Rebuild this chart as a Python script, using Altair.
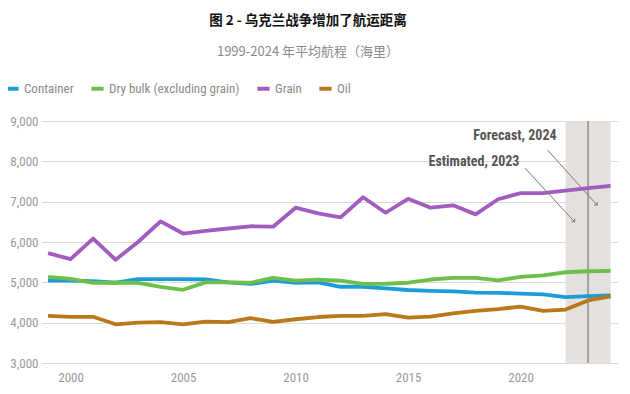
import altair as alt
import pandas as pd

years = list(range(1999, 2025))
series_names = ["Container", "Dry bulk (excluding grain)", "Grain", "Oil"]
series_colors = ["#1c9dd9", "#6dbf4b", "#a25cbf", "#b7791a"]

container = [5040, 5040, 5030, 4990, 5080, 5080, 5080, 5070, 5000, 4960, 5040, 4990, 5000,
             4890, 4890, 4850, 4810, 4790, 4775, 4745, 4740, 4720, 4700, 4635, 4660, 4675]
dry_bulk = [5135, 5085, 4985, 4990, 4985, 4890, 4815, 5000, 5000, 4990, 5110, 5040, 5065,
            5040, 4960, 4965, 4990, 5070, 5110, 5110, 5050, 5135, 5170, 5250, 5275, 5285]
grain = [5725, 5575, 6085, 5560, 6000, 6510, 6210, 6275, 6335, 6390, 6380, 6850, 6710,
         6610, 7110, 6725, 7070, 6850, 6910, 6685, 7060, 7210, 7210, 7275, 7335, 7390]
oil = [4170, 4145, 4145, 3960, 4000, 4015, 3960, 4025, 4015, 4110, 4020, 4085, 4140,
       4170, 4170, 4210, 4125, 4150, 4230, 4290, 4335, 4400, 4290, 4325, 4550, 4650]

shade_start, shade_end, rule_year = 2022, 2024, 2023

ann_text = ["Forecast, 2024", "Estimated, 2023"]
ann_tx = [2021.6, 2019.95]
ann_ty = [8630, 7990]
arrow_x1 = [2021.2, 2020.2]
arrow_y1 = [8280, 7830]
arrow_x2 = [2023.4, 2022.4]
arrow_y2 = [6915, 6500]

rows = []
for name, vals in zip(series_names, [container, dry_bulk, grain, oil]):
    for y, v in zip(years, vals):
        rows.append({"year": y, "series": name, "value": v})
df = pd.DataFrame(rows)

ann = pd.DataFrame({"text": ann_text, "tx": ann_tx, "ty": ann_ty,
                    "x1": arrow_x1, "y1": arrow_y1, "x2": arrow_x2, "y2": arrow_y2})
shade = pd.DataFrame({"a": [shade_start], "b": [shade_end], "r": [rule_year]})

W, H = 576, 242
FONT = "Roboto Condensed, Liberation Sans Narrow, DejaVu Sans Condensed, Roboto, sans-serif"

xscale = alt.Scale(domain=[1998.73, 2024.33], nice=False, zero=False)
yscale = alt.Scale(domain=[3000, 9000], nice=False, zero=False)

shade_layer = alt.Chart(shade).mark_rect(color="#e3e0dd").encode(
    x=alt.X("a:Q", scale=xscale), x2="b:Q", y=alt.value(0), y2=alt.value(H))
rule_layer = alt.Chart(shade).mark_rule(color="#666666", strokeWidth=1).encode(
    x=alt.X("r:Q", scale=xscale), y=alt.value(0), y2=alt.value(H))

lines = alt.Chart(df).mark_line(strokeWidth=3.8, strokeJoin="round").encode(
    x=alt.X("year:Q", scale=xscale,
            axis=alt.Axis(values=[2000, 2005, 2010, 2015, 2020], format="d", title=None,
                          grid=False, domain=False, ticks=False, labelPadding=8,
                          labelFontSize=13, labelColor="#9a9a9a", labelFont=FONT)),
    y=alt.Y("value:Q", scale=yscale,
            axis=alt.Axis(values=[3000, 4000, 5000, 6000, 7000, 8000, 9000], format=",.0f",
                          title=None, grid=True, gridColor="#b5b5b5", gridDash=[1, 1],
                          domain=False, ticks=False, labelPadding=4,
                          labelFontSize=13, labelColor="#9a9a9a", labelFont=FONT)),
    color=alt.Color("series:N",
                    scale=alt.Scale(domain=series_names, range=series_colors),
                    legend=alt.Legend(title=None, orient="none", direction="horizontal",
                                      legendX=-38, legendY=-41, symbolType="stroke",
                                      symbolStrokeWidth=4, symbolSize=150,
                                      labelFontSize=13, labelColor="#8a8a8a",
                                      labelFont=FONT, columnPadding=9, labelOffset=3)),
)

arrows = alt.Chart(ann).mark_rule(color="#777777", strokeWidth=1).encode(
    x=alt.X("x1:Q", scale=xscale), y=alt.Y("y1:Q", scale=yscale),
    x2="x2:Q", y2="y2:Q")
heads = alt.Chart(ann).mark_point(
    shape="M -0.7 0.7 L 0 0 L 0.7 0.7", filled=False, color="#777777",
    strokeWidth=1, size=40, angle=138, opacity=1).encode(
    x=alt.X("x2:Q", scale=xscale), y=alt.Y("y2:Q", scale=yscale))
labels = alt.Chart(ann).mark_text(align="right", baseline="middle", fontSize=14,
                                  fontWeight="bold", color="#555555", font=FONT).encode(
    x=alt.X("tx:Q", scale=xscale), y=alt.Y("ty:Q", scale=yscale), text="text:N")

chart = alt.layer(shade_layer, rule_layer, lines, arrows, heads, labels).properties(
    width=W, height=H,
    autosize=alt.AutoSizeParams(type="none"),
    padding={"left": 34, "top": 113, "right": 4, "bottom": 23},
    title=alt.TitleParams(
        text="图 2 - 乌克兰战争增加了航运距离",
        subtitle="1999-2024 年平均航程（海里）",
        anchor="middle", font="Noto Sans CJK SC", fontSize=13.5, fontWeight="bold",
        color="#111111", subtitleFont="Noto Sans CJK SC", subtitleFontSize=13,
        subtitleColor="#8a8a8a", subtitlePadding=19, offset=21, dx=-22),
).configure_view(stroke=None)

chart.save("out.html", embed_options={"renderer": "svg", "actions": False})
